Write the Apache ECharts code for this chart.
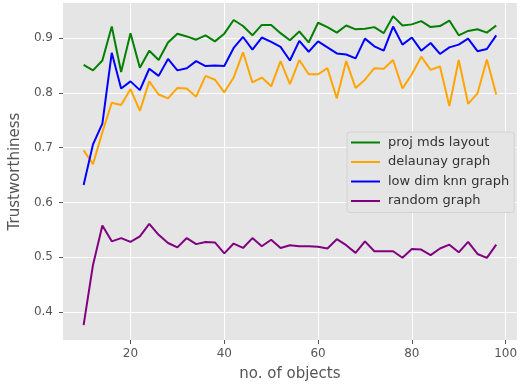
<!DOCTYPE html>
<html>
<head>
<meta charset="utf-8">
<script src="https://cdn.jsdelivr.net/npm/echarts@6/dist/echarts.min.js"></script>
<style>
  html, body { margin: 0; padding: 0; background: #ffffff; }
  #chart { width: 520px; height: 387px; }
</style>
</head>
<body>
<div id="chart"></div>
<script>
const xValues = [10,12,14,16,18,20,22,24,26,28,30,32,34,36,38,40,42,44,46,48,50,52,54,56,58,60,62,64,66,68,70,72,74,76,78,80,82,84,86,88,90,92,94,96,98];
const projMds = [0.851,0.841,0.859,0.921,0.838,0.909,0.846,0.877,0.860,0.892,0.908,0.903,0.897,0.905,0.894,0.908,0.933,0.922,0.905,0.924,0.924,0.909,0.896,0.912,0.892,0.928,0.920,0.910,0.923,0.916,0.917,0.920,0.909,0.940,0.923,0.925,0.931,0.920,0.922,0.932,0.905,0.913,0.916,0.910,0.923];
const delaunay = [0.695,0.670,0.728,0.782,0.778,0.807,0.767,0.821,0.797,0.790,0.809,0.808,0.793,0.831,0.824,0.801,0.828,0.874,0.819,0.828,0.812,0.858,0.816,0.860,0.834,0.834,0.845,0.790,0.858,0.809,0.824,0.845,0.844,0.860,0.808,0.834,0.866,0.842,0.848,0.776,0.860,0.780,0.799,0.861,0.797];
const lowDimKnn = [0.632,0.706,0.744,0.873,0.808,0.821,0.805,0.844,0.831,0.862,0.841,0.845,0.858,0.849,0.850,0.849,0.882,0.902,0.879,0.901,0.893,0.884,0.859,0.895,0.875,0.894,0.883,0.872,0.870,0.863,0.899,0.885,0.877,0.921,0.888,0.901,0.877,0.891,0.871,0.883,0.888,0.899,0.876,0.880,0.905];
const randomGraph = [0.376,0.486,0.558,0.529,0.535,0.528,0.538,0.561,0.541,0.526,0.518,0.535,0.524,0.528,0.527,0.507,0.525,0.517,0.535,0.520,0.532,0.517,0.522,0.520,0.520,0.519,0.516,0.533,0.522,0.508,0.529,0.511,0.511,0.511,0.499,0.515,0.514,0.504,0.516,0.523,0.509,0.528,0.506,0.499,0.523];
const xTicks = [20,40,60,80,100];
const yTicks = [0.4,0.5,0.6,0.7,0.8,0.9];
const seriesNames = ['proj mds layout','delaunay graph','low dim knn graph','random graph'];
const seriesColors = ['#008000','#FFA500','#0000FF','#800080'];
const seriesValues = [projMds, delaunay, lowDimKnn, randomGraph];

const chart = echarts.init(document.getElementById('chart'), null, {renderer: 'canvas'});
const textColor = '#555555';
const font = 'DejaVu Sans';

chart.setOption({
  animation: false,
  backgroundColor: '#ffffff',
  grid: { left: 60, right: 0, top: 3, bottom: 43, show: true, backgroundColor: '#E5E5E5', borderWidth: 0 },
  legend: {
    orient: 'vertical',
    left: 347, top: 132,
    padding: [4, 5, 5, 4],
    itemGap: 6.5,
    itemWidth: 29, itemHeight: 2,
    icon: 'rect',
    backgroundColor: '#E5E5E5',
    borderColor: '#D2D2D2', borderWidth: 1, borderRadius: 3,
    textStyle: { fontFamily: font, fontSize: 13, color: '#333333', padding: [0,0,0,3] },
    data: seriesNames
  },
  xAxis: {
    type: 'value', min: 5.6, max: 102.4,
    name: 'no. of objects', nameLocation: 'middle', nameGap: 27,
    nameTextStyle: { fontFamily: font, fontSize: 15, color: textColor },
    axisLine: { show: false },
    axisTick: { show: true, length: 4, lineStyle: { color: textColor }, customValues: xTicks },
    axisLabel: { fontFamily: font, fontSize: 12, color: textColor, margin: 8, customValues: xTicks, formatter: v => String(v) },
    splitLine: { show: true, lineStyle: { color: '#ffffff', width: 1 } }
  },
  yAxis: {
    type: 'value', min: 0.349, max: 0.964,
    name: 'Trustworthiness', nameLocation: 'middle', nameGap: 36,
    nameTextStyle: { fontFamily: font, fontSize: 15, color: textColor },
    axisLine: { show: false },
    axisTick: { show: true, length: 4, lineStyle: { color: textColor }, customValues: yTicks },
    axisLabel: { fontFamily: font, fontSize: 12, color: textColor, margin: 10, customValues: yTicks, formatter: v => v.toFixed(1) },
    splitLine: { show: true, lineStyle: { color: '#ffffff', width: 1 } }
  },
  series: seriesNames.map((n, k) => ({
    name: n, type: 'line', symbol: 'none',
    data: xValues.map((x, i) => [x, seriesValues[k][i]]),
    lineStyle: { color: seriesColors[k], width: 2 },
    itemStyle: { color: seriesColors[k] }
  }))
});
</script>
</body>
</html>
